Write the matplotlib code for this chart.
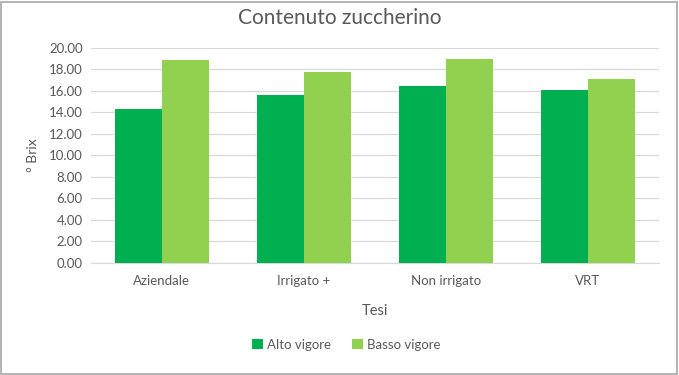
import numpy as np
import matplotlib.pyplot as plt
from matplotlib.patches import Rectangle

categories = ["Aziendale", "Irrigato +", "Non irrigato", "VRT"]
alto_vigore = [14.3, 15.6, 16.4, 16.1]
basso_vigore = [18.8, 17.7, 18.9, 17.1]
yticks = np.arange(0, 21, 2)

plt.rcParams["font.family"] = ["Lato", "DejaVu Sans"]
grey = "#595959"

fig = plt.figure(figsize=(6.79, 3.75), dpi=100)
ax = fig.add_axes([0.134, 0.2987, 0.836, 0.5746])

x = np.arange(len(categories))
w = 0.33
ax.bar(x - w / 2, alto_vigore, w, color="#00b050", label="Alto vigore", zorder=3)
ax.bar(x + w / 2, basso_vigore, w, color="#92d050", label="Basso vigore", zorder=3)

ax.set_xlim(-0.5, len(categories) - 0.5)
ax.set_ylim(0, 20)
ax.set_yticks(yticks)
ax.set_yticklabels([f"{v:.2f}" for v in yticks])
ax.set_xticks(x)
ax.set_xticklabels(categories)
ax.grid(axis="y", color="#d9d9d9", linewidth=0.9, zorder=0)
for s in ["top", "right", "left"]:
    ax.spines[s].set_visible(False)
ax.spines["bottom"].set_color("#d9d9d9")
ax.tick_params(axis="both", length=0, colors=grey, labelsize=9.5)
ax.tick_params(axis="x", pad=9)
ax.tick_params(axis="y", pad=6)

fig.text(0.5, 0.952, "Contenuto zuccherino", fontsize=15, color=grey,
         ha="center", va="center")
ax.set_ylabel("° Brix", fontsize=10, color=grey, labelpad=7)
ax.set_xlabel("Tesi", fontsize=10.5, color=grey, labelpad=12)

fig.legend(loc="center", bbox_to_anchor=(0.51, 0.08), ncol=2, frameon=False,
           fontsize=9.5, labelcolor=grey, handlelength=0.8, handleheight=0.8,
           handletextpad=0.3, columnspacing=1.6)

fig.patches.append(Rectangle((0.002, 0.004), 0.995, 0.992, transform=fig.transFigure,
                             fill=False, edgecolor="#a6a6a6", linewidth=1.2))

fig.savefig("out.png", dpi=100)
